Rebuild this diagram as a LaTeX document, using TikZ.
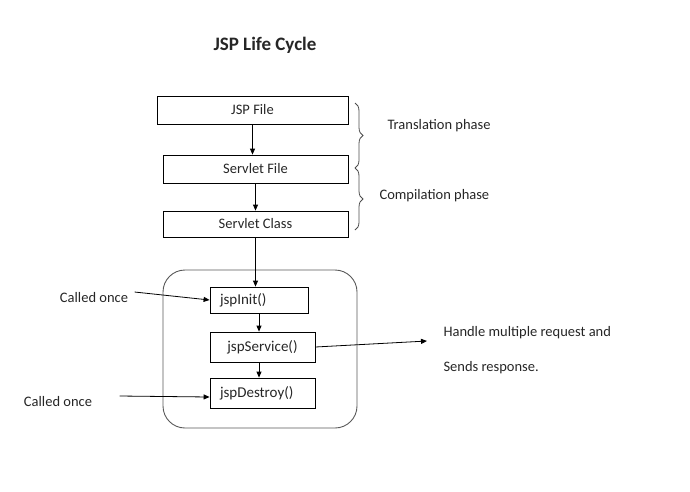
\documentclass[tikz,border=0pt]{standalone}
\usepackage{fontspec}
\setmainfont{Carlito}
\usetikzlibrary{arrows.meta, positioning, calc, decorations.pathreplacing}

\begin{document}
\begin{tikzpicture}[
    x=1pt, y=-1pt,
    every node/.style={font=\fontsize{14.5}{17}\selectfont, text=black!85}, % same font everywhere
    box/.style={draw=black, line width=0.8pt, minimum height=28pt, inner sep=0pt}, % stage boxes
    method/.style={box, font=\fontsize{15}{17}\selectfont}, % method boxes
    flow/.style={line width=0.8pt, -{Triangle[length=6pt, width=5pt]}}, % arrows
    phase/.style={line width=0.8pt, black!70, decorate, decoration={brace, amplitude=8pt}}, % phase braces
    container/.style={draw=black!65, line width=0.9pt, rounded corners=22pt} % life cycle frame
]
    \useasboundingbox (0,0) rectangle (690,491);

    % 1. title
    \node[font=\bfseries\fontsize{19}{22}\selectfont] (title) at (265,45) {JSP Life Cycle};

    % 2. translation and compilation chain
    \node[box, minimum width=191pt] (jsp) at (252.5,110) {JSP File};
    \node[box, minimum width=185pt] (servlet) at (255.5,169) {Servlet File};
    \node[box, minimum width=185pt, minimum height=26pt] (class) at (255.5,224) {Servlet Class};
    \draw[flow] (jsp.south) -- (jsp.south |- servlet.north);
    \draw[flow] (servlet.south) -- (servlet.south |- class.north);

    % phase braces
    \draw[phase] (355,103) -- (355,168);
    \draw[phase] (355,168) -- (355,230);
    \node[anchor=west] (translation) at (384,126) {Translation phase};
    \node[anchor=west] (compilation) at (376,196) {Compilation phase};

    % 3. life cycle methods inside the frame
    \draw[container] (163,270) rectangle (357,428);
    \node[method, minimum width=98pt, minimum height=26pt, text width=78pt, align=left] (init) at (259,300) {jspInit()};
    \node[method, minimum width=105pt, minimum height=30pt] (service) at (262.5,347) {jspService()};
    \node[method, minimum width=105pt, minimum height=30pt, text width=85pt, align=left] (destroy) at (262.5,393) {jspDestroy()};
    \draw[flow] (class.south) -- (class.south |- init.north);
    \draw[flow] (init.south) -- (init.south |- service.north);
    \draw[flow] (init.south |- service.south) -- (init.south |- destroy.north);

    % 4. side notes
    \node (once1) at (94,298) {Called once};
    \node (once2) at (58,402) {Called once};
    \draw[flow] ([xshift=3pt, yshift=6pt]once1.east) -- (init.west);
    \draw[flow] ([xshift=24pt, yshift=6pt]once2.east) -- ([yshift=-4pt]destroy.west);

    \node[anchor=west] (handle) at (440,333) {Handle multiple request and};
    \node[anchor=west] (sends) at (440,368) {Sends response.};
    \draw[flow] (service.east) -- ([xshift=-13pt, yshift=-8pt]handle.west);

\end{tikzpicture}
\end{document}
